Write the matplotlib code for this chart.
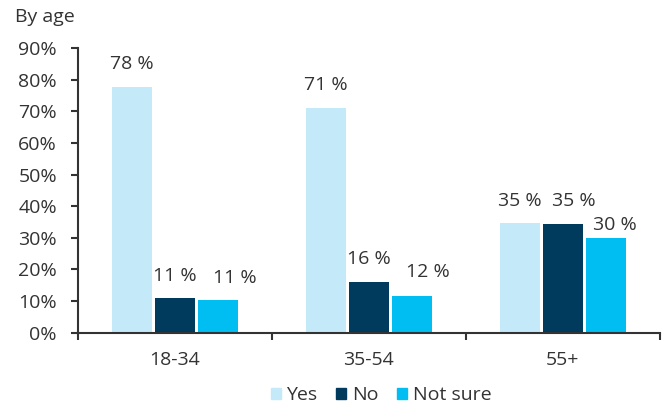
import numpy as np
import matplotlib.pyplot as plt
from matplotlib.patches import Patch

# data
groups = ['18-34', '35-54', '55+']
series = ['Yes', 'No', 'Not sure']
yes = [77.8, 71.1, 34.8]
no = [11.0, 16.0, 34.4]
not_sure = [10.4, 11.7, 29.9]
labels = [['78 %', '71 %', '35 %'],
          ['11 %', '16 %', '35 %'],
          ['11 %', '12 %', '30 %']]
colors = ['#c4eaf9', '#003a5c', '#00bef2']

# label nudges in pixels (dx, dy above bar top), as placed in the original
nudges = [[(0, 18), (0, 18), (0, 17)],
          [(0, 17), (0, 18), (11, 18)],
          [(17, 17), (16, 19), (9, 8)]]

plt.rcParams['font.family'] = ['Open Sans', 'DejaVu Sans']
txt = '#333333'
fs = 14

fig = plt.figure(figsize=(6.65, 4.09), dpi=100)
ax = fig.add_axes([0.117, 0.187, 0.875, 0.695])

x = np.arange(len(groups))
w = 0.207
step = 0.222
for i, (vals, c) in enumerate(zip([yes, no, not_sure], colors)):
    pos = x + (i - 1) * step
    ax.bar(pos, vals, width=w, color=c, zorder=2)
    for p, v, lab, d in zip(pos, vals, labels[i], nudges[i]):
        ax.annotate(lab, (p, v), xytext=d, textcoords='offset pixels',
                    ha='center', va='baseline', fontsize=fs, color=txt)

ax.set_xlim(-0.5, 2.5)
ax.set_ylim(0, 90)
ax.set_yticks(range(0, 91, 10))
ax.set_yticklabels([f'{v}%' for v in range(0, 91, 10)], fontsize=fs, color=txt)
ax.set_xticks(x)
ax.set_xticklabels(groups, fontsize=fs, color=txt)
ax.tick_params(axis='x', length=0, pad=13)
ax.set_xticks([-0.5, 0.5, 1.5, 2.5], minor=True)
ax.tick_params(axis='x', which='minor', length=5, width=1.5, color=txt, direction='out')
ax.tick_params(axis='y', length=5, width=1.5, color=txt, direction='out', pad=10)

for s in ['top', 'right']:
    ax.spines[s].set_visible(False)
for s in ['left', 'bottom']:
    ax.spines[s].set_color(txt)
    ax.spines[s].set_linewidth(1.5)

fig.text(0.022, 0.958, 'By age', fontsize=fs, color=txt, va='center', ha='left')

handles = [Patch(color=c, label=s) for c, s in zip(colors, series)]
fig.legend(handles=handles, loc='center', bbox_to_anchor=(0.573, 0.034), ncol=3,
           frameon=False, fontsize=fs, handlelength=0.52, handleheight=0.52,
           handletextpad=0.3, columnspacing=0.95, labelcolor=txt,
           borderpad=0, borderaxespad=0)

fig.savefig('out.png', dpi=100)
